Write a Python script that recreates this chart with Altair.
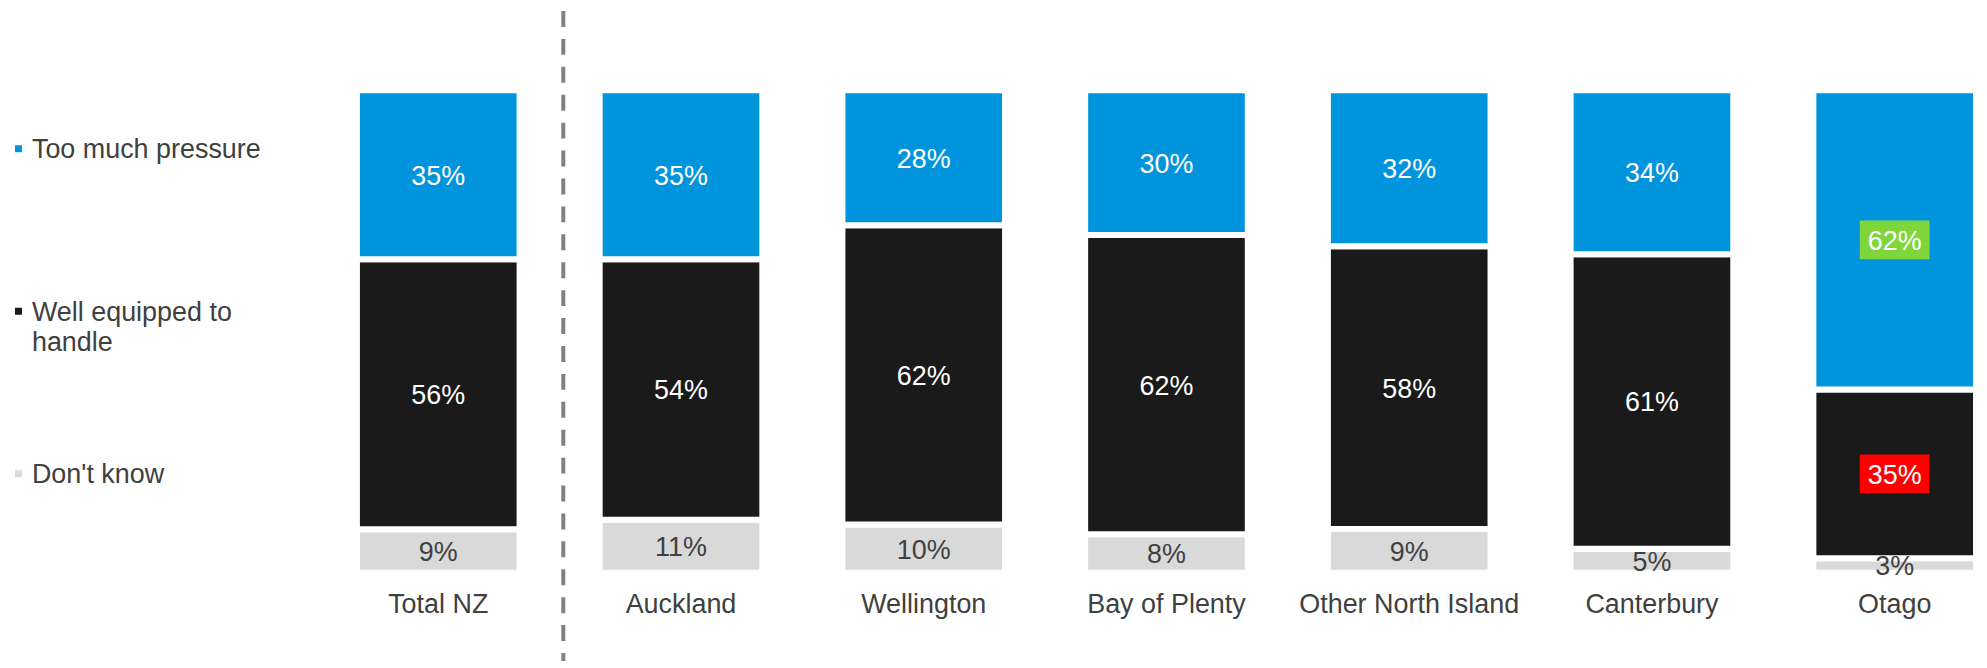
import altair as alt
import pandas as pd

# ---- data ----
categories = ["Total NZ", "Auckland", "Wellington", "Bay of Plenty",
              "Other North Island", "Canterbury", "Otago"]
series = ["Too much pressure", "Well equipped to handle", "Don't know"]
too_much = [35, 35, 28, 30, 32, 34, 62]
well_equipped = [56, 54, 62, 62, 58, 61, 35]
dont_know = [9, 11, 10, 8, 9, 5, 3]
# highlight boxes behind some value labels (significance markers)
hl_too_much = [None, None, None, None, None, None, "#7ED63A"]
hl_well = [None, None, None, None, None, None, "#FF0000"]

series_colors = ["#0094DD", "#1A1A1A", "#D9D9D9"]
text_colors = ["#FFFFFF", "#FFFFFF", "#404040"]
legend_labels = ["Too much pressure", "Well equipped to\nhandle", "Don't know"]

FONT = "Liberation Sans"
TXT = "#404040"
FS = 27

# ---- build table (stack bottom-up: Don't know, Well equipped, Too much) ----
rows = []
for i, c in enumerate(categories):
    vals = {series[0]: too_much[i], series[1]: well_equipped[i], series[2]: dont_know[i]}
    hls = {series[0]: hl_too_much[i], series[1]: hl_well[i], series[2]: None}
    total = sum(vals.values())
    base = 0.0
    for s in [series[2], series[1], series[0]]:
        v = vals[s] / total
        rows.append({
            "cat": c, "series": s, "value": vals[s],
            "y0": base, "y1": base + v, "mid": base + v / 2,
            "label": f"{vals[s]}%",
            "tcolor": text_colors[series.index(s)],
            "hl": hls[s],
        })
        base += v
df = pd.DataFrame(rows)
hl_df = df[df["hl"].notna()].copy()

ydom = [-0.1829, 1.1643]
yscale = alt.Scale(domain=ydom, nice=False, zero=False)
xscale = alt.Scale(domain=categories, paddingInner=0.33, paddingOuter=0)

base = alt.Chart(df)

bars = base.mark_bar(stroke="white", strokeWidth=6).encode(
    x=alt.X("cat:N", scale=xscale, sort=categories,
            axis=alt.Axis(title=None, orient="bottom", domain=False, ticks=False,
                          labelPadding=0, offset=-70, labelFont=FONT,
                          labelFontSize=FS, labelColor=TXT, labelAngle=0,
                          labelBaseline="top", labelLimit=400)),
    y=alt.Y("y0:Q", scale=yscale, axis=None),
    y2="y1:Q",
    color=alt.Color("series:N", scale=alt.Scale(domain=series, range=series_colors),
                    legend=None),
)

boxes = alt.Chart(hl_df).mark_point(
    shape="M-1,-0.557L1,-0.557L1,0.557L-1,0.557Z",
    size=4900, filled=True, opacity=1, strokeWidth=0,
).encode(
    x=alt.X("cat:N", scale=xscale, sort=categories),
    y=alt.Y("mid:Q", scale=yscale),
    color=alt.Color("hl:N", scale=None),
)

values = base.mark_text(font=FONT, fontSize=FS, baseline="middle", dy=2).encode(
    x=alt.X("cat:N", scale=xscale, sort=categories),
    y=alt.Y("mid:Q", scale=yscale),
    text="label:N",
    color=alt.Color("tcolor:N", scale=None),
)

# dashed separator placed just before the first region band
divider = alt.Chart(pd.DataFrame({"cat": [categories[1]]})).mark_rule(
    color="#808080", strokeWidth=4, strokeDash=[16, 12], xOffset=-36.5
).encode(
    x=alt.X("cat:N", scale=xscale, sort=categories, bandPosition=0),
)

main = alt.layer(bars, boxes, values, divider).properties(width=1624, height=652)

# ---- legend panel ----
leg_df = pd.DataFrame({"series": series, "text": legend_labels, "color": series_colors})
leg_y = alt.Y("series:N", sort=series, axis=None,
              scale=alt.Scale(domain=series, padding=1.0123, align=0.4238))
leg_sq = alt.Chart(leg_df).mark_square(size=49, opacity=1).encode(
    x=alt.value(10.5), y=leg_y, color=alt.Color("color:N", scale=None))
leg_tx = alt.Chart(leg_df).mark_text(
    font=FONT, fontSize=FS, align="left", baseline="top", dy=-11.5,
    lineBreak="\n", lineHeight=30, color=TXT,
).encode(x=alt.value(24), y=leg_y, text="text:N")
legend = alt.layer(leg_sq, leg_tx).properties(width=300, height=652)

chart = alt.hconcat(legend, main, spacing=47).properties(padding=0).configure_view(stroke=None)

chart.save("out.html", embed_options={"renderer": "svg", "actions": False})
